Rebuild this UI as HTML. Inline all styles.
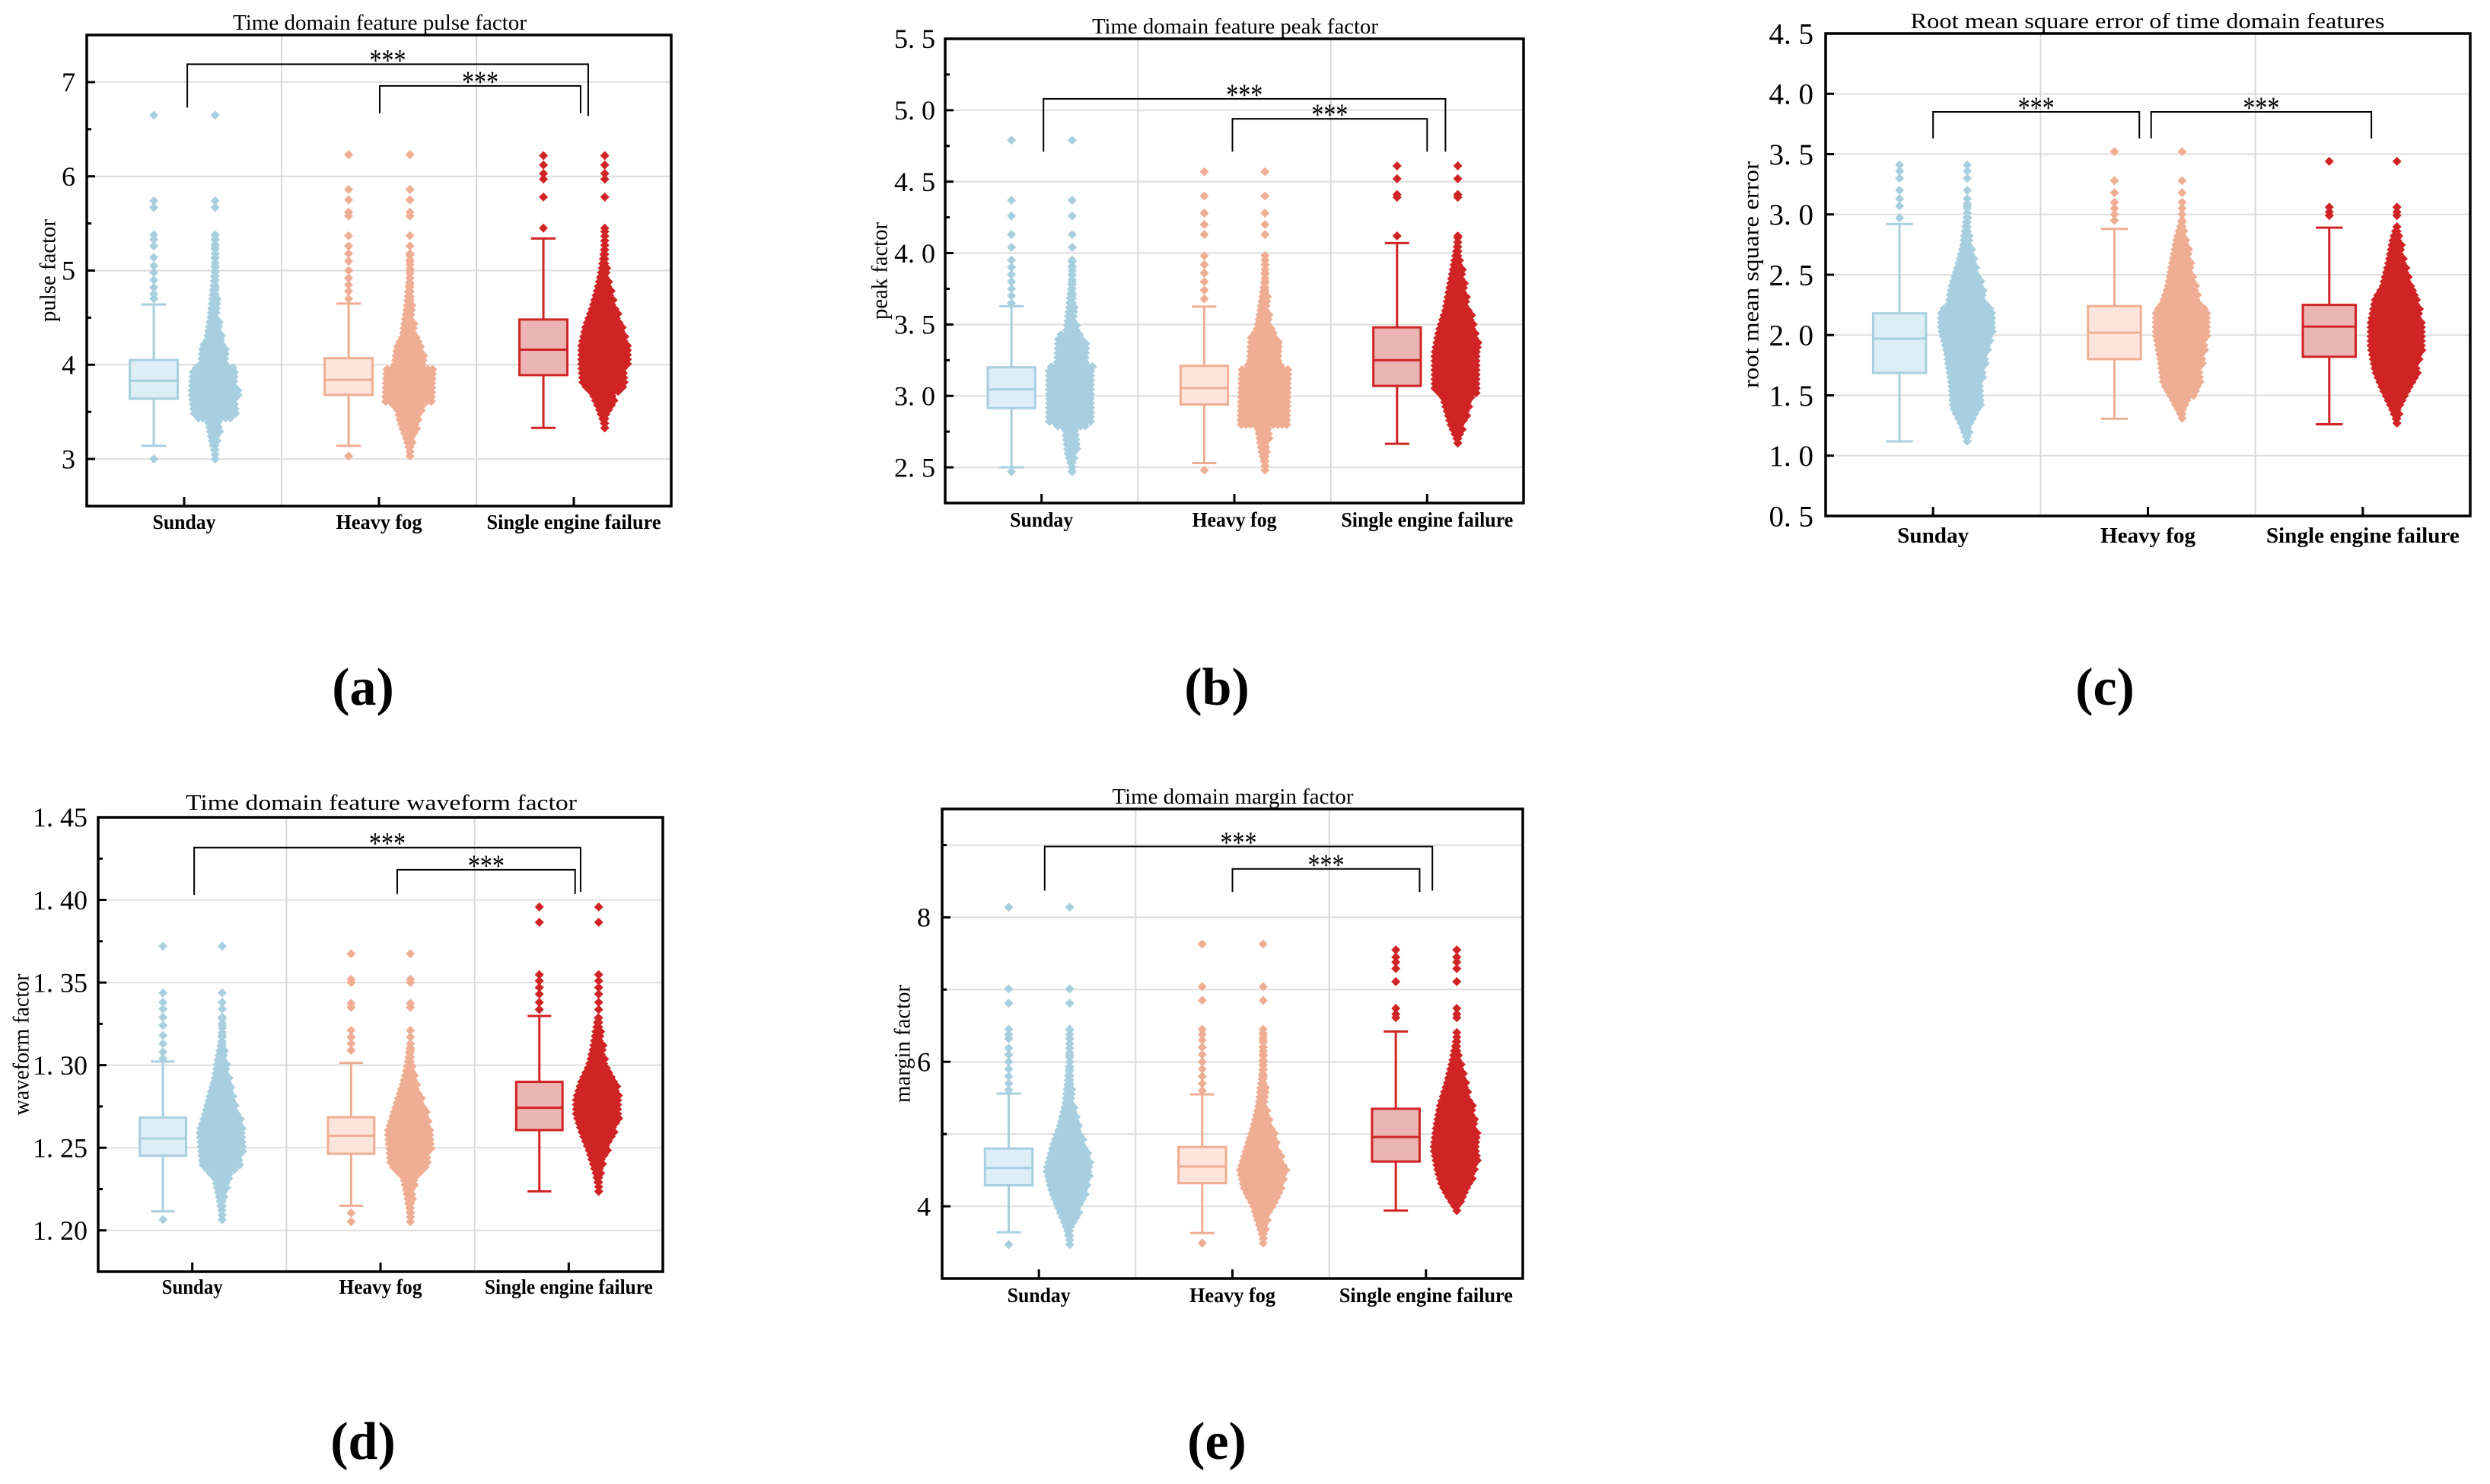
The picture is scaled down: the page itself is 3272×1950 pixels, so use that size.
<!DOCTYPE html>
<html><head><meta charset="utf-8">
<style>
html,body{margin:0;padding:0;background:#fff;}
svg{display:block;}
text{font-family:"Liberation Serif","Noto Serif CJK SC",serif;}
</style></head>
<body>
<svg id="fig" xmlns="http://www.w3.org/2000/svg" width="3272" height="1950" viewBox="0 0 3272 1950"></svg>
<script>
// ---------- data ----------
const categories = ["Sunday", "Heavy fog", "Single engine failure"];
// panel a: pulse factor
const aQ1 = [3.64, 3.68, 3.89], aMed = [3.83, 3.84, 4.16], aQ3 = [4.05, 4.07, 4.48], aLo = [3.14, 3.14, 3.33], aHi = [4.64, 4.65, 5.34];
const aOut0 = [6.65,5.74,5.67,5.38,5.33,5.26,5.14,5.05,4.98,4.9,4.82,4.75,4.7,3.0];
const aOut1 = [6.23,5.86,5.75,5.62,5.58,5.37,5.26,5.18,5.1,5.0,4.92,4.85,4.78,4.7,3.03];
const aOut2 = [6.22,6.12,6.03,5.97,5.78,5.45];
const aSwY0 = [3.0,3.2,3.4,3.45,3.7,3.95,4.0,4.2,4.25,4.5,4.8,5.1,5.4], aSwW0 = [0.1,0.25,0.4,0.9,1.0,0.95,0.65,0.6,0.45,0.3,0.2,0.12,0.08];
const aSwY1 = [3.03,3.2,3.4,3.55,3.6,3.95,4.0,4.2,4.3,4.6,4.9,5.2], aSwW1 = [0.1,0.25,0.5,0.6,1.05,1.0,0.7,0.6,0.4,0.25,0.15,0.1];
const aSwY2 = [3.33,3.5,3.7,3.8,4.0,4.2,4.4,4.6,4.8,5.0,5.3,5.45], aSwW2 = [0.1,0.3,0.6,0.95,1.0,1.0,0.85,0.6,0.4,0.25,0.12,0.08];
const aTicks = [3,4,5,6,7], aTickLabels = ["3","4","5","6","7"];
const aBrackets = [[0.016,2.074,7.19,6.73,6.64],[1.004,2.035,6.96,6.67,6.67]];
// panel b: peak factor
const bQ1 = [2.915, 2.94, 3.07], bMed = [3.045, 3.055, 3.25], bQ3 = [3.2, 3.21, 3.48], bLo = [2.5, 2.53, 2.665], bHi = [3.628, 3.625, 4.07];
const bOut0 = [4.79,4.37,4.26,4.13,4.04,3.95,3.9,3.85,3.8,3.75,3.7,3.65,2.47];
const bOut1 = [4.57,4.4,4.28,4.2,4.13,3.98,3.92,3.86,3.8,3.74,3.68,2.48];
const bOut2 = [4.61,4.52,4.41,4.39,4.12];
const bSwY0 = [2.47,2.6,2.78,2.8,3.2,3.22,3.42,3.45,3.6,3.8,3.95], bSwW0 = [0.1,0.3,0.4,1.0,1.0,0.7,0.65,0.35,0.25,0.15,0.1];
const bSwY1 = [2.48,2.6,2.78,2.8,3.2,3.22,3.42,3.45,3.6,3.8,4.0], bSwW1 = [0.1,0.25,0.4,1.05,1.0,0.7,0.65,0.45,0.3,0.15,0.1];
const bSwY2 = [2.67,2.8,3.0,3.05,3.2,3.3,3.45,3.6,3.8,4.0,4.12], bSwW2 = [0.1,0.4,0.7,1.0,1.0,1.0,0.85,0.6,0.4,0.2,0.1];
const bTicks = [2.5,3.0,3.5,4.0,4.5,5.0,5.5], bTickLabels = ["2. 5","3. 0","3. 5","4. 0","4. 5","5. 0","5. 5"];
const bBrackets = [[0.01,2.095,5.08,4.71,4.71],[0.99,2.0,4.94,4.71,4.71]];
// panel c: root mean square error
const cQ1 = [1.686, 1.80, 1.82], cMed = [1.97, 2.02, 2.07], cQ3 = [2.18, 2.24, 2.25], cLo = [1.118, 1.306, 1.26], cHi = [2.92, 2.88, 2.89];
const cOut0 = [3.41,3.36,3.3,3.2,3.13,3.07,2.97];
const cOut1 = [3.52,3.28,3.18,3.1,3.05,3.0,2.95];
const cOut2 = [3.44,3.06,3.02,2.99];
const cSwY0 = [1.12,1.25,1.4,1.6,1.75,1.85,2.05,2.2,2.25,2.4,2.6,2.75,2.95,3.1], cSwW0 = [0.1,0.3,0.6,0.65,0.75,0.8,1.0,1.0,0.75,0.65,0.4,0.25,0.15,0.08];
const cSwY1 = [1.31,1.45,1.6,1.8,2.0,2.2,2.25,2.4,2.6,2.8,2.95], cSwW1 = [0.1,0.4,0.75,0.85,1.0,1.0,0.8,0.6,0.45,0.3,0.12];
const cSwY2 = [1.27,1.4,1.55,1.7,1.9,2.1,2.3,2.4,2.6,2.8,2.9], cSwW2 = [0.1,0.3,0.6,0.85,1.0,1.0,0.85,0.6,0.4,0.25,0.12];
const cTicks = [0.5,1.0,1.5,2.0,2.5,3.0,3.5,4.0,4.5], cTickLabels = ["0. 5","1. 0","1. 5","2. 0","2. 5","3. 0","3. 5","4. 0","4. 5"];
const cBrackets = [[0.0,0.96,3.85,3.63,3.63],[1.015,2.04,3.85,3.63,3.63]];
// panel d: waveform factor
const dQ1 = [1.2452, 1.2464, 1.2607], dMed = [1.2556, 1.2573, 1.2742], dQ3 = [1.2683, 1.2685, 1.2899], dLo = [1.2115, 1.2149, 1.2236], dHi = [1.3022, 1.3014, 1.3298];
const dOut0 = [1.372,1.3438,1.338,1.334,1.329,1.324,1.318,1.313,1.308,1.304,1.2065];
const dOut1 = [1.3674,1.352,1.350,1.3374,1.335,1.321,1.317,1.313,1.309,1.2105,1.2053];
const dOut2 = [1.3958,1.3865,1.3548,1.351,1.347,1.343,1.338,1.3337];
const dSwY0 = [1.2065,1.22,1.231,1.24,1.26,1.27,1.282,1.293,1.304,1.315,1.33], dSwW0 = [0.1,0.25,0.4,0.9,1.0,0.8,0.6,0.4,0.3,0.15,0.08];
const dSwY1 = [1.2053,1.22,1.232,1.24,1.26,1.27,1.28,1.29,1.30,1.315], dSwW1 = [0.1,0.25,0.4,0.9,1.0,0.8,0.6,0.4,0.25,0.12];
const dSwY2 = [1.2236,1.235,1.248,1.26,1.27,1.28,1.29,1.30,1.31,1.32,1.33], dSwW2 = [0.1,0.25,0.5,0.8,1.0,1.0,0.8,0.5,0.35,0.25,0.15];
const dTicks = [1.20,1.25,1.30,1.35,1.40,1.45], dTickLabels = ["1. 20","1. 25","1. 30","1. 35","1. 40","1. 45"];
const dBrackets = [[0.01,2.063,1.4317,1.4031,1.4048],[1.089,2.034,1.4183,1.4036,1.4036]];
// panel e: margin factor
const eQ1 = [4.29, 4.32, 4.62], eMed = [4.53, 4.55, 4.96], eQ3 = [4.80, 4.82, 5.35], eLo = [3.64, 3.63, 3.94], eHi = [5.56, 5.55, 6.42];
const eOut0 = [8.14,7.01,6.81,6.45,6.38,6.32,6.19,6.1,6.0,5.9,5.8,5.7,5.61,3.47];
const eOut1 = [7.63,7.04,6.85,6.45,6.38,6.3,6.2,6.1,6.0,5.9,5.8,5.7,5.6,3.49];
const eOut2 = [7.55,7.45,7.38,7.29,7.11,6.74,6.66,6.61];
const eSwY0 = [3.47,3.7,3.97,4.2,4.5,4.85,5.1,5.4,5.8,6.2,6.45], eSwW0 = [0.1,0.25,0.55,0.8,1.0,0.75,0.5,0.3,0.18,0.1,0.08];
const eSwY1 = [3.49,3.7,4.0,4.25,4.5,4.8,5.1,5.4,5.8,6.2,6.45], eSwW1 = [0.1,0.25,0.5,0.85,1.0,0.75,0.5,0.3,0.18,0.1,0.08];
const eSwY2 = [3.94,4.1,4.3,4.5,4.8,5.1,5.4,5.7,6.0,6.3,6.45], eSwW2 = [0.1,0.4,0.7,0.85,1.0,0.9,0.75,0.5,0.3,0.15,0.08];
const eTicks = [4,6,8], eTickLabels = ["4","6","8"];
const eBrackets = [[0.03,2.033,8.98,8.37,8.37],[1.0,1.967,8.67,8.35,8.35]];

// ---------- layout / style ----------
const fills = ["#ddeef6", "#fde5dd", "#ecb5b5"];
const strokes = ["#a8cfe0", "#efae93", "#d02424"];
const NS = "http://www.w3.org/2000/svg";
const svg = document.getElementById("fig");

const panels = [
 {id:"a", L:114, R:882, T:46, B:665, ymin:2.5, ymax:7.5, ticks:aTicks, labels:aTickLabels, minor:[2.5,3.5,4.5,5.5,6.5], grid:aTicks, lblRight:99, tfs:36,
  q1:aQ1, med:aMed, q3:aQ3, lo:aLo, hi:aHi, outs:[aOut0,aOut1,aOut2], swY:[aSwY0,aSwY1,aSwY2], swW:[aSwW0,aSwW1,aSwW2], br:aBrackets,
  title:"Time domain feature pulse factor", titleX:499, titleY:39, titleW:386, ytitle:"pulse factor", ytX:63, ytLen:135,
  catY:695, catW:[83,113,229], catFs:27, sub:"(a)", subX:477, subY:926},
 {id:"b", L:1242, R:2002, T:51, B:661, ymin:2.25, ymax:5.5, ticks:bTicks, labels:bTickLabels, minor:[2.75,3.25,3.75,4.25,4.75,5.25], grid:bTicks, lblRight:1229, tfs:36,
  q1:bQ1, med:bMed, q3:bQ3, lo:bLo, hi:bHi, outs:[bOut0,bOut1,bOut2], swY:[bSwY0,bSwY1,bSwY2], swW:[bSwW0,bSwW1,bSwW2], br:bBrackets,
  title:"Time domain feature peak factor", titleX:1623, titleY:44, titleW:376, ytitle:"peak factor", ytX:1156, ytLen:128,
  catY:692, catW:[83,111,226], catFs:27, sub:"(b)", subX:1599, subY:926},
 {id:"c", L:2399, R:3246, T:44, B:678, ymin:0.5, ymax:4.5, ticks:cTicks, labels:cTickLabels, minor:[], grid:cTicks, lblRight:2383, tfs:39,
  q1:cQ1, med:cMed, q3:cQ3, lo:cLo, hi:cHi, outs:[cOut0,cOut1,cOut2], swY:[cSwY0,cSwY1,cSwY2], swW:[cSwW0,cSwW1,cSwW2], br:cBrackets,
  title:"Root mean square error of time domain features", titleX:2822, titleY:37, titleW:623, ytitle:"root mean square error", ytX:2301, ytLen:298,
  catY:713, catW:[94,125,254], catFs:29, sub:"(c)", subX:2766, subY:926},
 {id:"d", L:129, R:871, T:1074, B:1671, ymin:1.175, ymax:1.45, ticks:dTicks, labels:dTickLabels, minor:[1.225,1.275,1.325,1.375,1.425], grid:dTicks, lblRight:115, tfs:36,
  q1:dQ1, med:dMed, q3:dQ3, lo:dLo, hi:dHi, outs:[dOut0,dOut1,dOut2], swY:[dSwY0,dSwY1,dSwY2], swW:[dSwW0,dSwW1,dSwW2], br:dBrackets,
  title:"Time domain feature waveform factor", titleX:501, titleY:1064, titleW:514, ytitle:"waveform factor", ytX:28, ytLen:186,
  catY:1700, catW:[80,109,221], catFs:27, sub:"(d)", subX:477, subY:1917},
 {id:"e", L:1238, R:2001, T:1063, B:1680, ymin:3.0, ymax:9.5, ticks:eTicks, labels:eTickLabels, minor:[5,7,9], grid:[4,5,6,7,8,9], lblRight:1223, tfs:36,
  q1:eQ1, med:eMed, q3:eQ3, lo:eLo, hi:eHi, outs:[eOut0,eOut1,eOut2], swY:[eSwY0,eSwY1,eSwY2], swW:[eSwW0,eSwW1,eSwW2], br:eBrackets,
  title:"Time domain margin factor", titleX:1620, titleY:1056, titleW:317, ytitle:"margin factor", ytX:1186, ytLen:155,
  catY:1711, catW:[83,113,228], catFs:27, sub:"(e)", subX:1599, subY:1917}
];

function mk(tag, attrs, parent) {
  const el = document.createElementNS(NS, tag);
  for (const k in attrs) el.setAttribute(k, attrs[k]);
  (parent || svg).appendChild(el);
  return el;
}
function yS(p, v) { return p.B - (v - p.ymin) / (p.ymax - p.ymin) * (p.B - p.T); }
function xC(p, c) { return p.L + (2 * c + 1) / 6 * (p.R - p.L); }
function interp(ys, ws, v) {
  if (v <= ys[0]) return ws[0];
  for (let i = 1; i < ys.length; i++) {
    if (v <= ys[i]) { const t = (v - ys[i-1]) / (ys[i] - ys[i-1]); return ws[i-1] + t * (ws[i] - ws[i-1]); }
  }
  return ws[ws.length - 1];
}
function dia(x, y, r) { return "M" + x.toFixed(1) + " " + (y - r).toFixed(1) + "l" + r + " " + r + "l-" + r + " " + r + "l-" + r + " -" + r + "z"; }

panels.forEach(p => {
  const W = p.R - p.L;
  const g = mk("g", {});
  
  

  // grid
  p.grid.forEach(v => {
    const gl = mk("line", {x1:p.L, x2:p.R, y1:yS(p,v), y2:yS(p,v), stroke:"#dedede", "stroke-width":2}, g);
    
    
  });
  [1,2].forEach(k => {
    const gl = mk("line", {x1:p.L + k*W/3, x2:p.L + k*W/3, y1:p.T, y2:p.B, stroke:"#d8d8d8", "stroke-width":2}, g);
    
    
  });

  // groups
  for (let i = 0; i < 3; i++) {
    const cx = xC(p, i), bx = cx - 0.052 * W, sx = cx + 0.053 * W;
    const bh = 0.041 * W, cap = 0.021 * W, swMax = 0.046 * W;
    const grp = mk("g", {}, g);
    
    
    // whiskers
    const wk = mk("path", {d:"M"+bx+" "+yS(p,p.hi[i])+"V"+yS(p,p.q3[i])+"M"+bx+" "+yS(p,p.q1[i])+"V"+yS(p,p.lo[i])+
      "M"+(bx-cap)+" "+yS(p,p.hi[i])+"H"+(bx+cap)+"M"+(bx-cap)+" "+yS(p,p.lo[i])+"H"+(bx+cap),
      stroke:strokes[i], "stroke-width":3, fill:"none"}, grp);
    
    
    const box = mk("rect", {x:bx-bh, y:yS(p,p.q3[i]), width:2*bh, height:yS(p,p.q1[i])-yS(p,p.q3[i]), fill:fills[i], stroke:strokes[i], "stroke-width":3}, grp);
    
    
    const md = mk("line", {x1:bx-bh, x2:bx+bh, y1:yS(p,p.med[i]), y2:yS(p,p.med[i]), stroke:strokes[i], "stroke-width":3}, grp);
    
    
    // swarm
    const ys = p.swY[i], ws = p.swW[i];
    let d = "";
    const y0 = yS(p, ys[0]), y1 = yS(p, ys[ys.length-1]);
    for (let py = y0; py >= y1 - 0.1; py -= 6) {
      const v = p.ymin + (p.B - py) / (p.B - p.T) * (p.ymax - p.ymin);
      const hw = Math.max(0, interp(ys, ws, v) * swMax - 5);
      for (let dx = -hw; dx <= hw + 0.01; dx += Math.max(6, hw > 0 ? 6 : 6)) d += dia(sx + dx, py, 6);
      if (hw < 6) d += dia(sx, py, 6);
    }
    // outliers
    let od = "";
    p.outs[i].forEach(v => { od += dia(bx, yS(p, v), 6); d += dia(sx, yS(p, v), 6); });
    const sw = mk("path", {d:d, fill:strokes[i]}, grp);
    
    
    const ol = mk("path", {d:od, fill:strokes[i]}, grp);
    
    
    // x tick + label
    const xt = mk("line", {x1:cx, x2:cx, y1:p.B, y2:p.B-12, stroke:"#000", "stroke-width":3}, g);
    
    
    const cl = mk("text", {x:cx, y:p.catY, "text-anchor":"middle", "font-size":p.catFs, "font-weight":"bold", textLength:p.catW[i], lengthAdjust:"spacingAndGlyphs"}, g);
    cl.textContent = categories[i];
    
    
  }

  // brackets
  p.br.forEach(b => {
    const xa = xC(p, b[0]), xb = xC(p, b[1]), yt = yS(p, b[2]);
    const bp = mk("path", {d:"M"+xa+" "+yS(p,b[3])+"V"+yt+"H"+xb+"V"+yS(p,b[4]), stroke:"#000", "stroke-width":2, fill:"none"}, g);
    
    
    const st = mk("text", {x:(xa+xb)/2, y:yt+8, "text-anchor":"middle", "font-size":40, textLength:48, lengthAdjust:"spacingAndGlyphs"}, g);
    st.textContent = "***";
    
    
  });

  // axes frame
  const fr = mk("rect", {x:p.L, y:p.T, width:W, height:p.B-p.T, fill:"none", stroke:"#000", "stroke-width":3.5}, g);
  
  
  p.ticks.forEach((v, k) => {
    const tk = mk("line", {x1:p.L, x2:p.L+11, y1:yS(p,v), y2:yS(p,v), stroke:"#000", "stroke-width":3}, g);
    
    
    const tl = mk("text", {x:p.lblRight, y:yS(p,v) + p.tfs*0.34, "text-anchor":"end", "font-size":p.tfs}, g);
    tl.textContent = p.labels[k];
    
    
  });
  p.minor.forEach(v => {
    const tk = mk("line", {x1:p.L, x2:p.L+6, y1:yS(p,v), y2:yS(p,v), stroke:"#000", "stroke-width":3}, g);
    
    
  });

  // titles
  const tt = mk("text", {x:p.titleX, y:p.titleY, "text-anchor":"middle", "font-size":29, textLength:p.titleW, lengthAdjust:"spacingAndGlyphs"}, g);
  tt.textContent = p.title;
  
  
  const cy = (p.T + p.B) / 2;
  const yt = mk("text", {x:p.ytX, y:cy, transform:"rotate(-90 "+p.ytX+" "+cy+")", "text-anchor":"middle", "dominant-baseline":"central", "font-size":30, textLength:p.ytLen, lengthAdjust:"spacingAndGlyphs"}, g);
  yt.textContent = p.ytitle;
  
  
  const sl = mk("text", {x:p.subX, y:p.subY, "text-anchor":"middle", "font-size":70, "font-weight":"bold"}, g);
  sl.textContent = p.sub;
  
  
});
</script>
</body></html>
